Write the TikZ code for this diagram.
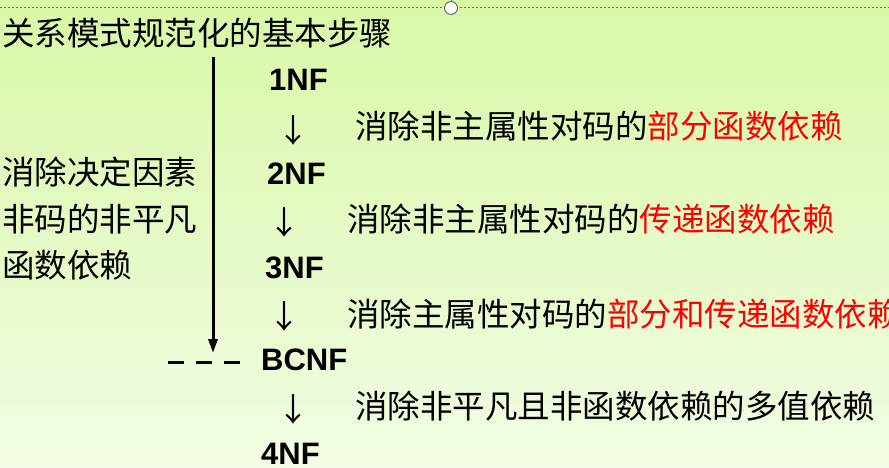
\documentclass[tikz,border=0pt]{standalone}
\usepackage{fontspec}
\newfontfamily\cjk{Noto Sans CJK SC}
\newfontfamily\nfont{Liberation Sans}
\usetikzlibrary{arrows.meta}

\definecolor{bgtop}{RGB}{216,248,166}
\definecolor{bgbot}{RGB}{242,252,228}
\definecolor{handle}{RGB}{110,110,110}

\tikzset{
  zh/.style={font=\cjk\fontsize{32.5}{38}\selectfont, inner sep=0pt, anchor=west,
    text height=27pt, text depth=2.2pt},
  nf/.style={font=\nfont\bfseries\fontsize{31}{36}\selectfont, inner sep=0pt, anchor=base west},
  down/.style={font=\cjk\fontsize{32}{38}\selectfont, inner sep=0pt},
}

\begin{document}
\begin{tikzpicture}[x=1pt, y=-1pt]
  % Background of the slide
  \shade[top color=bgtop, bottom color=bgbot] (0,0) rectangle (889,467);
  \useasboundingbox (0,0) rectangle (889,467);

  % Selection frame edge with its handle
  \draw[handle, line width=1pt, dash pattern=on 2pt off 2pt] (0,7) -- (889,7);
  \draw[handle, line width=1pt] (451,0) -- (451,1.5);
  \draw[handle, fill=white, line width=1pt] (451,8) circle (6.5);

  % Title
  \node[zh] (title) at (2,33) {关系模式规范化的基本步骤};

  % Left note with its long arrow
  \node[zh] (note1) at (2,172) {消除决定因素};
  \node[zh] (note2) at (2,219) {非码的非平凡};
  \node[zh] (note3) at (2,265) {函数依赖};
  \coordinate (vtop) at (213,57);
  \coordinate (vend) at (213,353);
  \draw[line width=3pt, -{Triangle[length=14pt, width=9pt]}] (vtop) -- (vend);
  \coordinate (dl) at (168,362);
  \coordinate (dr) at (240,362);
  \draw[line width=3pt, dash pattern=on 16pt off 12pt] (dl) -- (dr);

  % Normal forms
  \node[nf] (nf1) at (269,90) {1NF};
  \node[nf] (nf2) at (267,184) {2NF};
  \node[nf] (nf3) at (265,278) {3NF};
  \node[nf] (bcnf) at (261,370) {BCNF};
  \node[nf] (nf4) at (261,464) {4NF};

  % Down arrows between the forms
  \node[down] (ar1) at (293,130) {↓};
  \node[down] (ar2) at (284,222) {↓};
  \node[down] (ar3) at (284,316) {↓};
  \node[down] (ar4) at (293,409) {↓};

  % What each step removes
  \node[zh] (step1) at (355,126) {消除非主属性对码的{\color{red}部分函数依赖}};
  \node[zh] (step2) at (347,219) {消除非主属性对码的{\color{red}传递函数依赖}};
  \node[zh] (step3) at (347,314) {消除主属性对码的{\color{red}部分和传递函数依赖}};
  \node[zh] (step4) at (355,406) {消除非平凡且非函数依赖的多值依赖};
\end{tikzpicture}
\end{document}
